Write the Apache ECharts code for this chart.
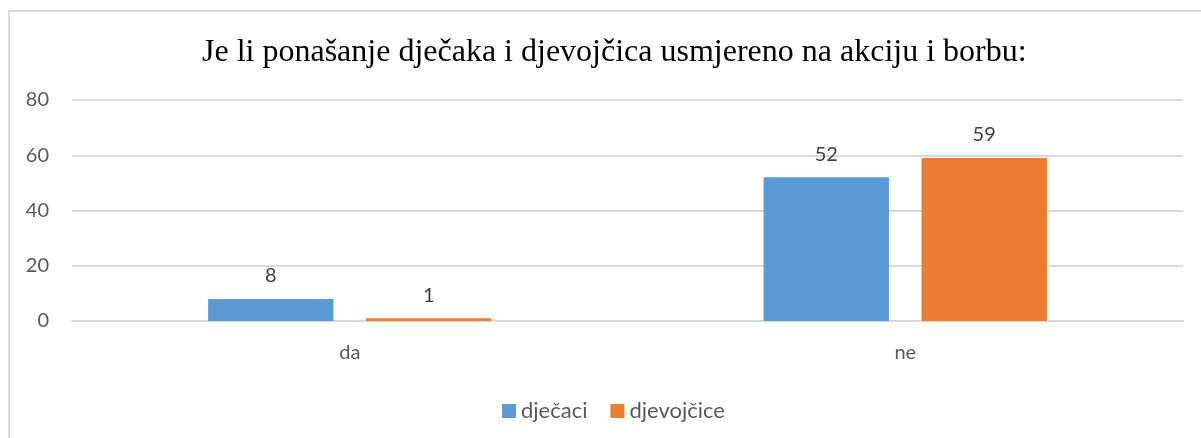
<!DOCTYPE html>
<html>
<head>
<meta charset="utf-8">
<script src="https://cdn.jsdelivr.net/npm/echarts@6/dist/echarts.min.js"></script>
<style>
html,body{margin:0;padding:0;background:#fff;}
#c{width:1201px;height:438px;}
</style>
</head>
<body>
<div id="c"></div>
<script>
const titleText = 'Je li ponašanje dječaka i djevojčica usmjereno na akciju i borbu:';
const categories = ['da', 'ne'];
const seriesNames = ['dječaci', 'djevojčice'];
const djecaci = [8, 52];
const djevojcice = [1, 59];
const yTicks = [0, 20, 40, 60, 80];

const chart = echarts.init(document.getElementById('c'), null, {renderer: 'canvas'});
const labelFont = 'Lato, "Open Sans", sans-serif';
chart.setOption({
  animation: false,
  backgroundColor: '#fff',
  title: {
    text: titleText,
    left: 197,
    top: 32,
    textStyle: {fontFamily: '"Liberation Serif", "DejaVu Serif", serif', fontSize: 32, fontWeight: 'normal', color: '#000'}
  },
  graphic: [{
    type: 'polyline',
    shape: {points: [[9, 438], [9, 11], [1201, 11]]},
    style: {stroke: '#d9d9d9', lineWidth: 2, fill: null}
  }],
  legend: {
    data: seriesNames,
    top: 395,
    left: 497,
    itemWidth: 14,
    itemHeight: 14,
    itemGap: 23,
    icon: 'rect',
    textStyle: {fontFamily: labelFont, fontSize: 22, color: '#595959'}
  },
  grid: {left: 72, right: 18, top: 100, bottom: 117},
  xAxis: {
    type: 'category',
    data: categories,
    axisLine: {lineStyle: {color: '#d9d9d9', width: 2}},
    axisTick: {show: false},
    axisLabel: {fontFamily: labelFont, fontSize: 20, color: '#595959', margin: 22}
  },
  yAxis: {
    type: 'value',
    min: yTicks[0],
    max: yTicks[yTicks.length - 1],
    interval: 20,
    axisLine: {show: false},
    axisTick: {show: false},
    splitLine: {lineStyle: {color: '#d9d9d9', width: 2}},
    axisLabel: {fontFamily: labelFont, fontSize: 20, color: '#595959', margin: 23}
  },
  series: [
    {
      name: seriesNames[0], type: 'bar', data: djecaci,
      barGap: '26%', barCategoryGap: '49%',
      itemStyle: {color: '#5b9bd5'},
      label: {show: true, position: 'top', distance: 13, fontFamily: labelFont, fontSize: 20, color: '#404040'}
    },
    {
      name: seriesNames[1], type: 'bar', data: djevojcice,
      barGap: '26%', barCategoryGap: '49%',
      itemStyle: {color: '#ed7d31'},
      label: {show: true, position: 'top', distance: 13, fontFamily: labelFont, fontSize: 20, color: '#404040'}
    }
  ]
});
</script>
</body>
</html>
